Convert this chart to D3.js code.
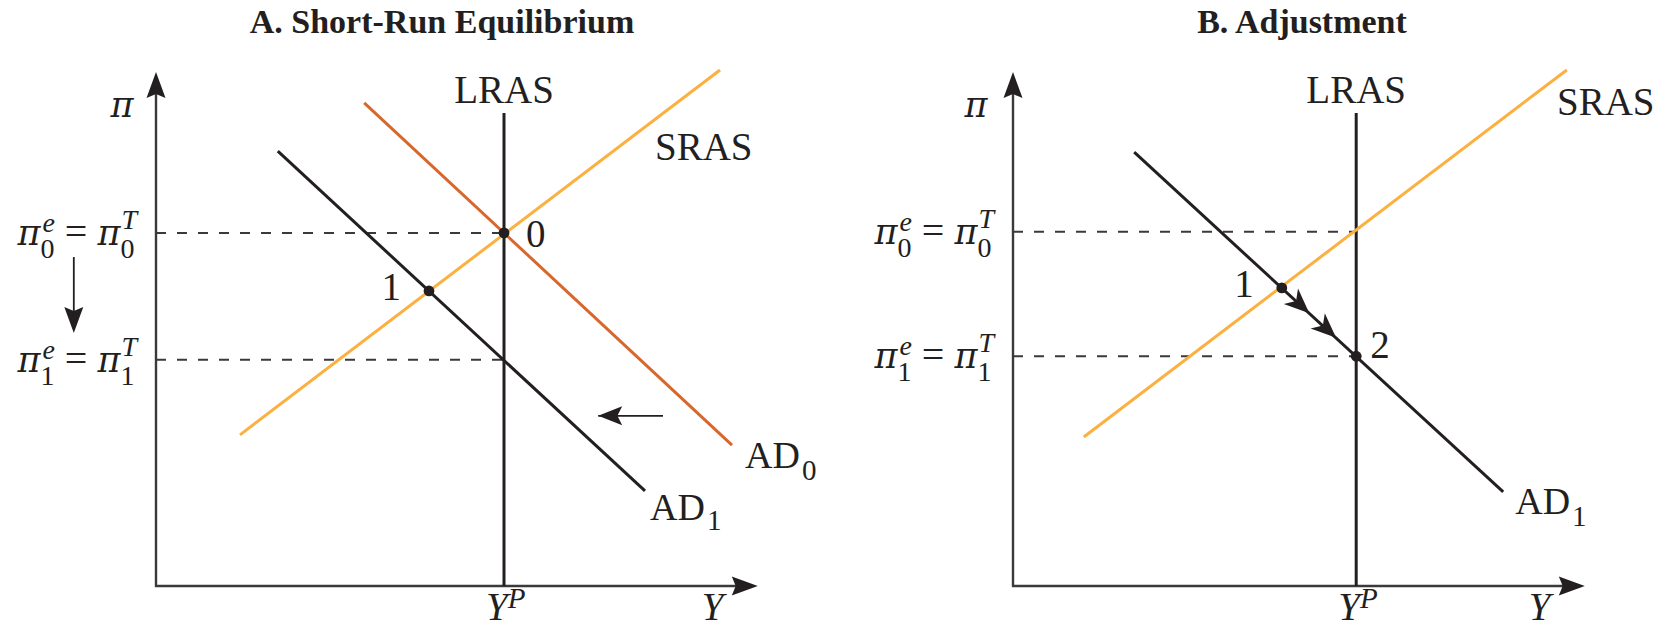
<!DOCTYPE html>
<html><head><meta charset="utf-8">
<script src="https://cdn.jsdelivr.net/npm/d3@7"></script>
<style>
body{margin:0;background:#fff}
svg{display:block}
text{font-family:"Liberation Serif","Times New Roman",serif;fill:#231f20}
.gr{font-family:"DejaVu Serif",serif}
</style>
</head><body>
<svg id="c" width="1665" height="627"></svg>
<script>
// ---------- data (abstract units 0..10) ----------
const titles = ["A. Short-Run Equilibrium", "B. Adjustment"];

// Panel A
const aAxisMax = [10.03, 10];
const aYP = 5.8;
const aPi = [6.87, 4.40];           // pi0, pi1
const aLRASTop = 9.2;
const aSRAS = [[1.40, 2.94], [9.40, 10.04]];
const aAD0 = [[3.47, 9.40], [9.60, 2.74]];
const aAD1 = [[2.03, 8.46], [8.15, 1.85]];
const aPoints = [{label: "0", x: 5.8, y: 6.87}, {label: "1", x: 4.55, y: 5.74}];
const aShiftArrow = [[8.45, 3.31], [7.37, 3.31]];
const aDownArrow = [[-1.37, 6.40], [-1.37, 4.92]];

// Panel B
const bAxisMax = [9.53, 10];
const bYP = 5.72;
const bPi = [6.89, 4.47];
const bLRASTop = 9.2;
const bSRAS = [[1.18, 2.90], [9.23, 10.04]];
const bAD1 = [[2.02, 8.44], [8.17, 1.83]];
const bPoints = [{label: "1", x: 4.48, y: 5.80}, {label: "2", x: 5.72, y: 4.47}];
const bPathArrows = [0.37, 0.73];   // positions of arrowheads between point 1 and point 2

const colSRAS = "#FBB040", colAD0 = "#D8672B", ink = "#231f20";

const svg = d3.select("#c");

function makeScales(x0) {
  return {
    x: d3.scaleLinear().domain([0, 10]).range([x0, x0 + 600]),
    y: d3.scaleLinear().domain([0, 10]).range([586, 72])
  };
}

function arrowHead(g, tip, angleDeg, L, W, notch) {
  const p = `M0,0 L${-L},${-W / 2} L${-L * notch},0 L${-L},${W / 2} Z`;
  g.append("path").attr("d", p)
    .attr("transform", `translate(${tip[0]},${tip[1]}) rotate(${angleDeg})`)
    .attr("fill", ink);
}

function seg(g, s, pts, color, w, dash) {
  const line = d3.line().x(d => s.x(d[0])).y(d => s.y(d[1]));
  const p = g.append("path").attr("d", line(pts)).attr("fill", "none")
    .attr("stroke", color).attr("stroke-width", w);
  if (dash) p.attr("stroke-dasharray", dash);
  return p;
}

// "pi^e_k = pi^T_k", right-aligned to xRight, pi baseline at y+12
function piLabel(g, xRight, y, sub) {
  const big = 35, small = 28;
  const lg = g.append("g");
  let x = 0;
  const put = (txt, dx, dy, size, italic, cls) => {
    const t = lg.append("text").attr("x", x + dx).attr("y", dy).attr("font-size", size).text(txt);
    if (italic) t.attr("font-style", "italic");
    if (cls) t.attr("class", cls);
    return t.node().getComputedTextLength();
  };
  let w = put("π", 0, 0, big, true, "gr");
  x += w;
  const w1 = put("e", 2, -13, small, true);
  const w2 = put(sub, 0, 13, small, false);
  x += Math.max(w1 + 2, w2) + 10;
  w = put("=", 0, 0, 40, false);
  x += w + 10;
  w = put("π", 0, 0, big, true, "gr");
  x += w;
  const w3 = put("T", 1, -16, small, true);
  const w4 = put(sub, 0, 13, small, false);
  x += Math.max(w3 + 1, w4);
  lg.attr("transform", `translate(${xRight - x},${y + 12})`);
}

function drawPanel(cfg) {
  const s = makeScales(cfg.x0);
  const g = svg.append("g");
  const X0 = s.x(0), Y0 = s.y(0);

  // title
  g.append("text").attr("x", cfg.titleX).attr("y", 33).attr("text-anchor", "middle")
    .attr("font-size", 34).attr("font-weight", "bold").text(cfg.title);

  // dashed guides
  cfg.pi.forEach(p => seg(g, s, [[0, p], [cfg.yp, p]], "#3a3a3a", 2, "10,11"));

  // axes
  const ax = g.append("g");
  const tipY = s.y(cfg.axisMax[1]), tipX = s.x(cfg.axisMax[0]);
  ax.append("path").attr("d", `M${X0},${tipY + 18} L${X0},${Y0} L${tipX - 18},${Y0}`)
    .attr("fill", "none").attr("stroke", "#3a3a3a").attr("stroke-width", 2.4);
  arrowHead(ax, [X0, tipY], -90, 26, 19, 0.85);
  arrowHead(ax, [tipX, Y0], 0, 26, 19, 0.85);

  // LRAS
  seg(g, s, [[cfg.yp, 0], [cfg.yp, cfg.lrasTop]], ink, 3);

  // curves
  seg(g, s, cfg.sras, colSRAS, 3);
  if (cfg.ad0) seg(g, s, cfg.ad0, colAD0, 3);
  seg(g, s, cfg.ad1, ink, 3);

  // points
  cfg.points.forEach(p => {
    g.append("circle").attr("cx", s.x(p.x)).attr("cy", s.y(p.y)).attr("r", 5.4).attr("fill", ink);
  });

  // labels
  const F = 39, f = 29;
  g.append("text").attr("x", s.x(cfg.yp)).attr("y", 103).attr("text-anchor", "middle").attr("font-size", F).text("LRAS");
  g.append("text").attr("x", cfg.srasLabel[0]).attr("y", cfg.srasLabel[1]).attr("font-size", F).text("SRAS");
  g.append("text").attr("class", "gr").attr("x", X0 + cfg.piDx).attr("y", 117).attr("text-anchor", "middle")
    .attr("font-size", 35).attr("font-style", "italic").text("π");
  const yl = g.append("text").attr("x", s.x(cfg.yp) - 18).attr("y", 620).attr("font-size", F).attr("font-style", "italic");
  yl.append("tspan").text("Y");
  yl.append("tspan").attr("dy", -12).attr("font-size", f).text("P");
  g.append("text").attr("x", tipX - 56).attr("y", 620).attr("font-size", F).attr("font-style", "italic").text("Y");

  cfg.pi.forEach((p, i) => piLabel(g, X0 - 19, s.y(p), String(i)));

  // AD labels
  cfg.adLabels.forEach(l => {
    const end = l.curve[1];
    const t = g.append("text").attr("x", s.x(end[0]) + l.dx).attr("y", s.y(end[1]) + l.dy).attr("font-size", 38);
    t.append("tspan").text("AD");
    t.append("tspan").attr("dy", l.sdy).attr("dx", 2).attr("font-size", f).text(l.sub);
  });

  // point labels
  cfg.points.forEach(p => {
    g.append("text").attr("x", s.x(p.x) + p.ldx).attr("y", s.y(p.y) + p.ldy)
      .attr("text-anchor", p.anchor).attr("font-size", F).text(p.label);
  });

  return {g, s};
}

// ---------- Panel A ----------
aPoints[0].ldx = 22; aPoints[0].ldy = 14; aPoints[0].anchor = "start";
aPoints[1].ldx = -28; aPoints[1].ldy = 9; aPoints[1].anchor = "end";
const A = drawPanel({
  x0: 156, title: titles[0], titleX: 442, axisMax: aAxisMax, yp: aYP, pi: aPi,
  lrasTop: aLRASTop, sras: aSRAS, ad0: aAD0, ad1: aAD1, points: aPoints,
  srasLabel: [655, 160], piDx: -34,
  adLabels: [{curve: aAD0, sub: "0", dx: 13, dy: 23, sdy: 12}, {curve: aAD1, sub: "1", dx: 5, dy: 29, sdy: 10}]
});
// shift arrow (AD0 -> AD1)
seg(A.g, A.s, aShiftArrow, ink, 1.8);
arrowHead(A.g, [A.s.x(aShiftArrow[1][0]), A.s.y(aShiftArrow[1][1])], 180, 24, 19, 0.8);
// expectation down arrow
seg(A.g, A.s, [aDownArrow[0], [aDownArrow[1][0], aDownArrow[1][1] + 0.3]], ink, 1.8);
arrowHead(A.g, [A.s.x(aDownArrow[1][0]), A.s.y(aDownArrow[1][1])], 90, 26, 19, 0.85);

// ---------- Panel B ----------
bPoints[0].ldx = -28; bPoints[0].ldy = 9; bPoints[0].anchor = "end";
bPoints[1].ldx = 14; bPoints[1].ldy = 2; bPoints[1].anchor = "start";
const B = drawPanel({
  x0: 1013, title: titles[1], titleX: 1302, axisMax: bAxisMax, yp: bYP, pi: bPi,
  lrasTop: bLRASTop, sras: bSRAS, ad0: null, ad1: bAD1, points: bPoints,
  srasLabel: [1557, 115], piDx: -37,
  adLabels: [{curve: bAD1, sub: "1", dx: 12, dy: 22, sdy: 12}]
});
// arrowheads along AD1 from 1 to 2
{
  const p1 = [B.s.x(bPoints[0].x), B.s.y(bPoints[0].y)];
  const p2 = [B.s.x(bPoints[1].x), B.s.y(bPoints[1].y)];
  const ang = Math.atan2(p2[1] - p1[1], p2[0] - p1[0]) * 180 / Math.PI;
  bPathArrows.forEach(t => {
    arrowHead(B.g, [p1[0] + t * (p2[0] - p1[0]), p1[1] + t * (p2[1] - p1[1])], ang, 25, 21, 0.72);
  });
}
</script>
</body></html>
